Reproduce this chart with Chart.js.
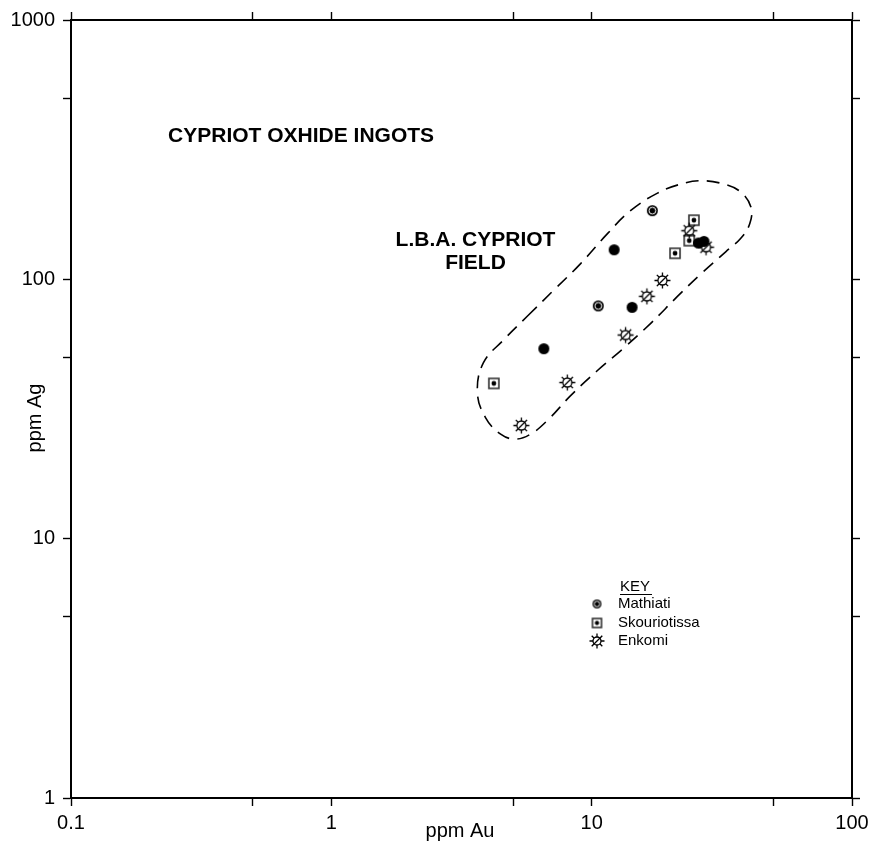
<!DOCTYPE html>
<html>
<head>
<meta charset="utf-8">
<script src="https://cdn.jsdelivr.net/npm/chart.js@4.4.1/dist/chart.umd.min.js"></script>
<style>
body { margin: 0; background: #fff; }
#wrap { width: 879px; height: 842px; }
</style>
</head>
<body>
<div id="wrap"><canvas id="grafico" width="879" height="842"></canvas></div>
<script>
// ppm Au (x) / ppm Ag (y)
var mathiatiAu = [17.1, 12.2, 10.6, 14.3, 6.55, 25.7, 27.0];
var mathiatiAg = [184, 130, 79, 78, 54, 138, 140];

var skouriotissaAu = [24.7, 23.7, 20.9, 4.21];
var skouriotissaAg = [169, 141, 126, 39.7];

var enkomiAu = [23.7, 27.5, 18.7, 16.3, 13.5, 8.06, 5.37];
var enkomiAg = [154, 133, 99, 86, 61, 40, 27.3];

// contorno tracejado do campo L.B.A.
var campoAu = [5.67, 7.14, 9.07, 11.5, 14.1, 17.9, 22.0, 26.3, 32.2, 37.4, 40.9, 40.5, 37.4, 32.8, 26.3, 21.4, 16.9, 13.3, 10.5, 8.30, 6.77, 5.83, 5.10, 4.47, 3.91, 3.64, 3.84, 4.59, 5.67];
var campoAg = [72.2, 90.7, 115, 150, 184, 215, 233, 240, 233, 217, 190, 164, 144, 128, 105, 86.1, 67.8, 54.4, 44.4, 35.6, 28.6, 25.3, 24.2, 25.3, 29.3, 36.6, 47.7, 58.4, 72.2];

var xTicks = [0.1, 0.5, 1, 5, 10, 50, 100];
var xLabels = ['0.1', '', '1', '', '10', '', '100'];
var yTicks = [1, 5, 10, 50, 100, 500, 1000];
var yLabels = ['1', '', '10', '', '100', '', '1000'];

var fonte = '"Liberation Sans", Arial, Helvetica, sans-serif';

function pares(xs, ys) {
    var out = [];
    for (let i = 0; i < xs.length; i++) {
        out.push({ x: xs[i], y: ys[i] });
    }
    return out;
}

function novaTela(s) {
    var cv = document.createElement('canvas');
    cv.width = s;
    cv.height = s;
    return cv;
}

function marcaAnel(r) {
    var s = Math.ceil(r * 2 + 4);
    var cv = novaTela(s);
    var c = cv.getContext('2d');
    c.fillStyle = '#000';
    c.beginPath(); c.arc(s / 2, s / 2, r, 0, Math.PI * 2); c.fill();
    c.strokeStyle = '#fff';
    c.lineWidth = 1;
    c.beginPath(); c.arc(s / 2, s / 2, r * 0.62, 0, Math.PI * 2); c.stroke();
    return cv;
}

function marcaPonto(r) {
    var s = Math.ceil(r * 2 + 4);
    var cv = novaTela(s);
    var c = cv.getContext('2d');
    c.fillStyle = '#000';
    c.beginPath(); c.arc(s / 2, s / 2, r, 0, Math.PI * 2); c.fill();
    return cv;
}

function marcaQuadrado(lado) {
    var s = Math.ceil(lado + 4);
    var cv = novaTela(s);
    var c = cv.getContext('2d');
    c.strokeStyle = '#333';
    c.lineWidth = 1.6;
    c.strokeRect(2, 2, lado, lado);
    c.fillStyle = '#000';
    c.beginPath(); c.arc(s / 2, s / 2, lado * 0.24, 0, Math.PI * 2); c.fill();
    return cv;
}

function marcaSol(r) {
    var s = Math.ceil(2 * (r + 4) + 2);
    var cv = novaTela(s);
    var c = cv.getContext('2d');
    var m = s / 2;
    c.strokeStyle = '#000';
    c.lineWidth = 1.3;
    c.beginPath(); c.arc(m, m, r, 0, Math.PI * 2); c.stroke();
    c.beginPath();
    for (let k = 0; k < 8; k++) {
        var a = k * Math.PI / 4;
        c.moveTo(m + Math.cos(a) * r, m + Math.sin(a) * r);
        c.lineTo(m + Math.cos(a) * (r + 3.5), m + Math.sin(a) * (r + 3.5));
    }
    c.moveTo(m - r - 1, m + r + 1);
    c.lineTo(m + r + 1, m - r - 1);
    c.stroke();
    return cv;
}

var anel = marcaAnel(5.5);
var ponto = marcaPonto(5.5);
var quadrado = marcaQuadrado(10);
var sol = marcaSol(4.5);

var legAnel = marcaAnel(4.5);
var legQuadrado = marcaQuadrado(9);
var legSol = marcaSol(4);

var textos = {
    id: 'textos',
    afterDraw: function (chart) {
        var c = chart.ctx;
        var sx = chart.scales.x;
        var sy = chart.scales.y;
        c.save();
        c.fillStyle = '#000';

        c.font = 'bold 21px ' + fonte;
        c.textBaseline = 'middle';
        c.textAlign = 'left';
        c.fillText('CYPRIOT OXHIDE INGOTS', sx.getPixelForValue(0.236), sy.getPixelForValue(355));
        c.textAlign = 'center';
        c.fillText('L.B.A. CYPRIOT', sx.getPixelForValue(3.58), sy.getPixelForValue(141));
        c.fillText('FIELD', sx.getPixelForValue(3.58), sy.getPixelForValue(115));

        // titulos dos eixos
        c.font = '20px ' + fonte;
        c.textBaseline = 'alphabetic';
        c.fillText('ppm Au', 460, 837);
        c.save();
        c.translate(41, 418);
        c.rotate(-Math.PI / 2);
        c.fillText('ppm Ag', 0, 0);
        c.restore();

        // legenda (KEY)
        c.font = '15px ' + fonte;
        c.textAlign = 'left';
        c.fillText('KEY', 620, 591);
        c.lineWidth = 1;
        c.strokeStyle = '#000';
        c.beginPath(); c.moveTo(620, 594.5); c.lineTo(652, 594.5); c.stroke();

        var itens = [
            { img: legAnel, nome: 'Mathiati', y: 604 },
            { img: legQuadrado, nome: 'Skouriotissa', y: 623 },
            { img: legSol, nome: 'Enkomi', y: 641 }
        ];
        c.textBaseline = 'middle';
        for (let i = 0; i < itens.length; i++) {
            var it = itens[i];
            c.drawImage(it.img, 597 - it.img.width / 2, it.y - it.img.height / 2);
            c.fillText(it.nome, 618, it.y);
        }
        c.restore();
    }
};

function eixoLog(pos, min, max, vals, labels, mostrar, tamanho) {
    var horiz = pos == 'top' || pos == 'bottom';
    return {
        type: 'logarithmic',
        position: pos,
        axis: horiz ? 'x' : 'y',
        min: min,
        max: max,
        afterBuildTicks: function (scale) {
            scale.ticks = vals.map(function (v) { return { value: v }; });
        },
        afterFit: function (scale) {
            if (horiz) scale.height = tamanho; else scale.width = tamanho;
        },
        grid: {
            drawOnChartArea: false,
            drawTicks: true,
            tickLength: 8,
            tickColor: '#000',
            tickWidth: 1.4
        },
        border: { display: true, color: '#000', width: 2 },
        ticks: {
            display: mostrar,
            autoSkip: false,
            maxRotation: 0,
            padding: horiz ? 5 : 8,
            color: '#000',
            font: { family: fonte, size: 20 },
            callback: function (value, index) {
                return labels[index];
            }
        }
    };
}

var ctx = document.getElementById('grafico');

new Chart(ctx, {
    type: 'scatter',
    data: {
        datasets: [{
            label: 'Mathiati',
            data: pares(mathiatiAu, mathiatiAg),
            pointStyle: [anel, ponto, anel, ponto, ponto, ponto, ponto],
            order: 1
        }, {
            label: 'Skouriotissa',
            data: pares(skouriotissaAu, skouriotissaAg),
            pointStyle: quadrado,
            order: 2
        }, {
            label: 'Enkomi',
            data: pares(enkomiAu, enkomiAg),
            pointStyle: sol,
            order: 0
        }, {
            label: 'L.B.A. Cypriot field',
            data: pares(campoAu, campoAg),
            showLine: true,
            pointRadius: 0,
            borderColor: '#000',
            borderWidth: 1.6,
            borderDash: [13, 8],
            tension: 0.4,
            fill: false,
            order: 10
        }]
    },
    options: {
        responsive: false,
        animation: false,
        layout: { padding: 0 },
        plugins: {
            legend: { display: false },
            tooltip: { enabled: false }
        },
        scales: {
            x: eixoLog('bottom', 0.1, 100, xTicks, xLabels, true, 44),
            x2: eixoLog('top', 0.1, 100, xTicks, xLabels, false, 14),
            y: eixoLog('left', 1, 1000, yTicks, yLabels, true, 71),
            y2: eixoLog('right', 1, 1000, yTicks, yLabels, false, 27)
        }
    },
    plugins: [textos]
});
</script>
</body>
</html>
